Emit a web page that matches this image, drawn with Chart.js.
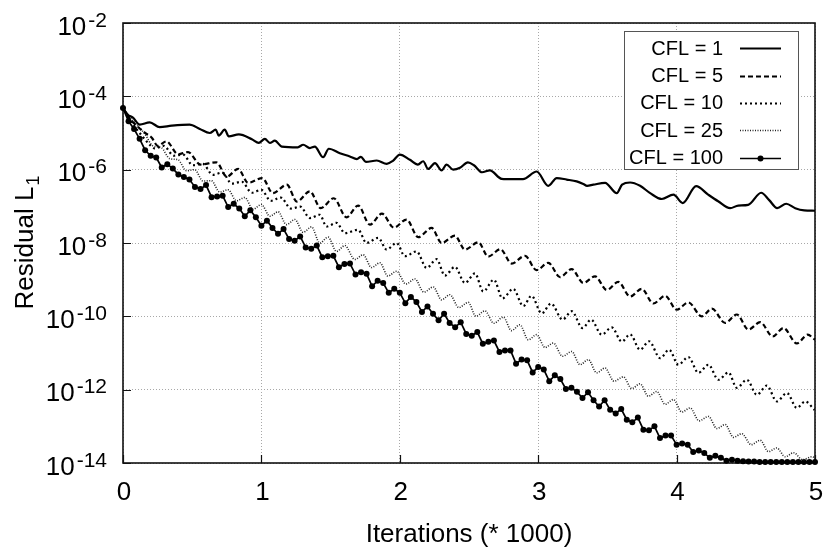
<!DOCTYPE html>
<html><head><meta charset="utf-8">
<script src="https://cdn.jsdelivr.net/npm/chart.js@4.4.0/dist/chart.umd.min.js"></script>
<style>html,body{margin:0;padding:0;background:#fff}#wrap{width:827px;height:552px}</style>
</head><body><div id="wrap"><canvas id="c" width="827" height="552"></canvas></div>
<script>
// ---------- data (x in thousands of iterations, values stored as log10 of the residual) ----------
const xTicks = [0, 1, 2, 3, 4, 5];
const yTickExps = [-14, -12, -10, -8, -6, -4, -2];
const seriesLabels = ['CFL = 1', 'CFL = 5', 'CFL = 10', 'CFL = 25', 'CFL = 100'];

const cfl1X = [0,0.034,0.072,0.121,0.193,0.265,0.352,0.481,0.555,0.627,0.670,0.692,0.735,0.764,0.837,0.931,0.981,1.025,1.061,1.097,1.147,1.263,1.302,1.350,1.386,1.446,1.487,1.567,1.639,1.690,1.719,1.755,1.834,1.906,1.950,2.000,2.073,2.131,2.169,2.205,2.254,2.302,2.338,2.386,2.435,2.492,2.536,2.594,2.651,2.736,2.818,2.890,2.989,3.073,3.134,3.206,3.278,3.326,3.353,3.398,3.483,3.568,3.606,3.664,3.736,3.809,3.893,3.977,4.045,4.141,4.228,4.300,4.387,4.445,4.517,4.611,4.669,4.727,4.792,4.857,4.922,5.000];
const cfl1Exp = [-4.32,-4.50,-4.58,-4.77,-4.71,-4.84,-4.80,-4.77,-4.89,-5.00,-4.91,-5.07,-4.91,-5.09,-5.04,-5.17,-5.27,-5.16,-5.27,-5.21,-5.37,-5.39,-5.32,-5.41,-5.37,-5.66,-5.43,-5.55,-5.64,-5.71,-5.65,-5.79,-5.75,-5.84,-5.76,-5.59,-5.73,-5.86,-5.77,-5.98,-5.82,-6.02,-5.86,-6.00,-5.95,-5.80,-5.88,-6.07,-6.02,-6.25,-6.26,-6.26,-6.05,-6.44,-6.23,-6.27,-6.32,-6.39,-6.44,-6.41,-6.36,-6.64,-6.41,-6.35,-6.44,-6.64,-6.80,-6.68,-6.91,-6.45,-6.68,-6.86,-7.05,-6.98,-6.96,-6.63,-6.83,-7.05,-6.93,-7.05,-7.11,-7.12];

const cfl5X = [0,0.041,0.099,0.157,0.208,0.251,0.314,0.398,0.470,0.560,0.675,0.750,0.832,0.904,1.007,1.082,1.184,1.256,1.350,1.429,1.523,1.615,1.699,1.784,1.871,1.957,2.049,2.133,2.230,2.302,2.398,2.471,2.567,2.639,2.727,2.808,2.905,2.988,3.073,3.158,3.242,3.326,3.411,3.495,3.579,3.664,3.748,3.832,3.917,4.001,4.085,4.182,4.255,4.351,4.435,4.519,4.604,4.694,4.772,4.869,4.947,5.000];
const cfl5Exp = [-4.32,-4.58,-4.80,-4.99,-5.13,-5.35,-5.23,-5.58,-5.52,-5.86,-5.80,-6.19,-5.98,-6.36,-6.23,-6.64,-6.41,-6.87,-6.59,-7.05,-6.78,-7.30,-6.98,-7.50,-7.20,-7.58,-7.36,-7.84,-7.59,-8.00,-7.80,-8.18,-7.98,-8.37,-8.17,-8.56,-8.35,-8.74,-8.54,-8.93,-8.71,-9.09,-8.91,-9.28,-9.06,-9.46,-9.25,-9.65,-9.44,-9.82,-9.62,-10.00,-9.79,-10.18,-9.95,-10.36,-10.16,-10.55,-10.32,-10.74,-10.50,-10.64];

const cfl10X = [0,0.070,0.142,0.193,0.229,0.294,0.367,0.435,0.504,0.576,0.649,0.717,0.786,0.858,0.931,0.999,1.068,1.140,1.213,1.281,1.350,1.422,1.471,1.543,1.603,1.699,1.760,1.844,1.905,1.977,2.037,2.121,2.194,2.266,2.326,2.398,2.471,2.543,2.603,2.680,2.742,2.820,2.892,2.952,3.025,3.093,3.176,3.242,3.320,3.382,3.459,3.531,3.604,3.664,3.736,3.801,3.881,3.946,4.013,4.085,4.158,4.230,4.302,4.375,4.435,4.508,4.580,4.652,4.724,4.797,4.869,4.929,4.996];
const cfl10Exp = [-4.32,-4.75,-5.10,-5.32,-5.42,-5.35,-5.62,-5.59,-5.88,-5.84,-6.14,-6.08,-6.38,-6.33,-6.63,-6.55,-6.85,-6.76,-7.06,-7.01,-7.32,-7.23,-7.55,-7.45,-7.73,-7.64,-8.00,-7.86,-8.18,-8.00,-8.36,-8.23,-8.68,-8.44,-8.89,-8.65,-9.09,-8.83,-9.32,-9.00,-9.51,-9.25,-9.72,-9.44,-9.92,-9.65,-10.09,-9.86,-10.32,-10.09,-10.50,-10.30,-10.69,-10.49,-10.91,-10.68,-11.14,-10.91,-11.32,-11.11,-11.54,-11.32,-11.73,-11.53,-11.95,-11.73,-12.14,-11.89,-12.32,-12.09,-12.50,-12.32,-12.55];

const cfl25X = [0,0.070,0.157,0.215,0.277,0.338,0.398,0.458,0.518,0.578,0.638,0.699,0.759,0.820,0.880,0.940,1.000,1.061,1.121,1.181,1.242,1.302,1.362,1.422,1.482,1.543,1.603,1.675,1.735,1.796,1.856,1.914,1.977,2.044,2.109,2.174,2.242,2.302,2.362,2.427,2.495,2.550,2.615,2.680,2.748,2.807,2.868,2.928,2.989,3.049,3.109,3.176,3.242,3.302,3.362,3.423,3.483,3.548,3.615,3.676,3.736,3.796,3.857,3.917,3.977,4.038,4.098,4.163,4.230,4.291,4.351,4.411,4.471,4.539,4.604,4.664,4.724,4.785,4.845,4.911,4.978,4.996];
const cfl25Exp = [-4.32,-4.66,-5.02,-5.35,-5.40,-5.70,-5.73,-6.03,-6.00,-6.31,-6.30,-6.61,-6.55,-6.85,-6.76,-7.08,-6.95,-7.27,-7.15,-7.50,-7.36,-7.71,-7.56,-8.00,-7.84,-8.23,-8.07,-8.45,-8.32,-8.67,-8.54,-8.90,-8.77,-9.12,-8.98,-9.34,-9.20,-9.55,-9.41,-9.76,-9.62,-10.00,-9.85,-10.19,-10.02,-10.39,-10.23,-10.64,-10.50,-10.85,-10.73,-11.09,-10.96,-11.32,-11.18,-11.54,-11.41,-11.77,-11.65,-11.97,-11.84,-12.18,-12.05,-12.40,-12.27,-12.61,-12.50,-12.85,-12.73,-13.06,-12.95,-13.30,-13.20,-13.50,-13.38,-13.69,-13.59,-13.83,-13.72,-13.91,-13.83,-13.85];

const cfl100X = [0,0.04,0.08,0.12,0.16,0.2,0.24,0.28,0.32,0.36,
0.4,0.44,0.48,0.52,0.56,0.6,0.64,0.68,0.72,0.76,
0.8,0.84,0.88,0.92,0.96,1,1.04,1.08,1.12,1.16,
1.2,1.24,1.28,1.32,1.36,1.4,1.44,1.48,1.52,1.56,
1.6,1.64,1.68,1.72,1.76,1.8,1.84,1.88,1.92,1.96,
2,2.04,2.08,2.12,2.16,2.2,2.24,2.28,2.32,2.36,
2.4,2.44,2.48,2.52,2.56,2.6,2.64,2.68,2.72,2.76,
2.8,2.84,2.88,2.92,2.96,3,3.04,3.08,3.12,3.16,
3.2,3.24,3.28,3.32,3.36,3.4,3.44,3.48,3.52,3.56,
3.6,3.64,3.68,3.72,3.76,3.8,3.84,3.88,3.92,3.96,
4,4.04,4.08,4.12,4.16,4.2,4.24,4.28,4.32,4.36,
4.4,4.44,4.48,4.52,4.56,4.6,4.64,4.68,4.72,4.76,
4.8,4.84,4.88,4.92,4.96,5];
const cfl100Exp = [-4.32,-4.68,-4.89,-5.16,-5.47,-5.62,-5.67,-5.94,-5.85,-5.97,
-6.13,-6.20,-6.27,-6.47,-6.53,-6.42,-6.75,-6.73,-6.71,-7.02,
-6.93,-7.06,-7.27,-7.11,-7.30,-7.53,-7.39,-7.59,-7.75,-7.62,
-7.89,-7.94,-7.82,-8.12,-8.16,-8.07,-8.39,-8.36,-8.35,-8.66,
-8.57,-8.56,-8.86,-8.80,-8.84,-9.18,-9.03,-9.09,-9.36,-9.25,
-9.36,-9.64,-9.47,-9.61,-9.88,-9.73,-9.93,-10.11,-9.93,-10.18,
-10.30,-10.16,-10.48,-10.53,-10.43,-10.75,-10.69,-10.66,-10.97,-10.93,
-10.93,-11.29,-11.18,-11.20,-11.53,-11.38,-11.45,-11.77,-11.61,-11.71,
-11.98,-11.95,-12.06,-12.23,-12.07,-12.29,-12.46,-12.29,-12.55,-12.65,
-12.53,-12.82,-12.89,-12.76,-13.09,-13.11,-13.00,-13.32,-13.25,-13.25,
-13.50,-13.47,-13.50,-13.70,-13.66,-13.73,-13.86,-13.80,-13.86,-13.94,
-13.91,-13.94,-13.95,-13.96,-13.96,-13.97,-13.97,-13.97,-13.97,-13.97,
-13.97,-13.97,-13.97,-13.97,-13.97,-13.97];

// ---------- chart ----------
const FONT = '"Liberation Sans", Arial, Helvetica, sans-serif';
Chart.defaults.font.family = FONT;

function toPoints(xs, exps) { return xs.map((x, i) => ({ x: x, y: Math.pow(10, exps[i]) })); }

const lineBase = { borderColor: '#000', backgroundColor: '#000', fill: false, pointRadius: 0, pointHoverRadius: 0, cubicInterpolationMode: 'monotone' };

const datasets = [
  Object.assign({}, lineBase, { label: seriesLabels[0], data: toPoints(cfl1X, cfl1Exp), borderWidth: 2.2 }),
  Object.assign({}, lineBase, { label: seriesLabels[1], data: toPoints(cfl5X, cfl5Exp), borderWidth: 2.2, borderDash: [5, 3] }),
  Object.assign({}, lineBase, { label: seriesLabels[2], data: toPoints(cfl10X, cfl10Exp), borderWidth: 2.2, borderDash: [2, 3] }),
  Object.assign({}, lineBase, { label: seriesLabels[3], data: toPoints(cfl25X, cfl25Exp), borderWidth: 1.6, borderDash: [1, 1.5], borderColor: '#222' }),
  { label: seriesLabels[4], data: toPoints(cfl100X, cfl100Exp), borderColor: '#000', backgroundColor: '#000', borderWidth: 1.7, tension: 0,
    pointRadius: 3, pointHoverRadius: 3, pointBackgroundColor: '#000', pointBorderColor: '#000', pointBorderWidth: 0, clip: false }
];

const decor = {
  id: 'decor',
  beforeDatasetsDraw(chart) {
    const { ctx, chartArea: a, scales: { x, y } } = chart;
    ctx.save();
    ctx.strokeStyle = '#111';
    ctx.lineWidth = 1.2;
    ctx.beginPath();
    yTickExps.forEach(e => {
      const py = Math.round(y.getPixelForValue(Math.pow(10, e))) + 0.5;
      ctx.moveTo(a.left, py); ctx.lineTo(a.left + 8, py);
    });
    xTicks.forEach(v => {
      const px = Math.round(x.getPixelForValue(v)) + 0.5;
      ctx.moveTo(px, a.bottom); ctx.lineTo(px, a.bottom - 8);
    });
    ctx.stroke();
    ctx.lineWidth = 1.6;
    ctx.strokeRect(a.left, a.top, a.right - a.left, a.bottom - a.top);
    ctx.restore();
  },
  afterDatasetsDraw(chart) {
    const { ctx, chartArea: a } = chart;
    const W = 174, H = 138;
    const L = a.right - 17 - W, T = a.top + 8;
    ctx.save();
    ctx.fillStyle = '#fff';
    ctx.fillRect(L, T, W, H);
    ctx.strokeStyle = '#555';
    ctx.lineWidth = 1;
    ctx.strokeRect(L + 0.5, T + 0.5, W, H);
    chart.data.datasets.forEach((ds, k) => {
      const cy = T + 17.3 + k * 27.3;
      ctx.font = '20px ' + FONT;
      ctx.textAlign = 'right';
      ctx.textBaseline = 'middle';
      ctx.fillStyle = '#000';
      ctx.fillText(ds.label, L + 99, cy + 1);
      ctx.strokeStyle = ds.borderColor;
      ctx.lineWidth = ds.borderWidth;
      ctx.setLineDash(ds.borderDash || []);
      ctx.beginPath();
      ctx.moveTo(L + 116, Math.round(cy) + 0.5);
      ctx.lineTo(L + 157, Math.round(cy) + 0.5);
      ctx.stroke();
      ctx.setLineDash([]);
      if (ds.pointRadius > 0) {
        ctx.beginPath();
        ctx.arc(L + 136.5, Math.round(cy) + 0.5, ds.pointRadius, 0, Math.PI * 2);
        ctx.fillStyle = '#000';
        ctx.fill();
      }
    });
    ctx.restore();
  },
  afterDraw(chart) {
    const { ctx, chartArea: a, scales: { x, y } } = chart;
    ctx.save();
    ctx.fillStyle = '#000';
    ctx.textBaseline = 'alphabetic';
    // y tick labels 10^n
    yTickExps.forEach(e => {
      const py = y.getPixelForValue(Math.pow(10, e));
      const sup = String(e);
      ctx.textAlign = 'right';
      ctx.font = '21px ' + FONT;
      const sw = ctx.measureText(sup).width;
      ctx.fillText(sup, 107, py + 3.5);
      ctx.font = '26px ' + FONT;
      ctx.fillText('10', 107 - sw - 2, py + 11.5);
    });
    // x tick labels
    ctx.textAlign = 'center';
    ctx.font = '26px ' + FONT;
    xTicks.forEach(v => { ctx.fillText(String(v), x.getPixelForValue(v) + 1, 500); });
    // x title
    ctx.fillText('Iterations (* 1000)', (a.left + a.right) / 2, 541.5);
    // y title with subscript
    ctx.translate(33, 243);
    ctx.rotate(-Math.PI / 2);
    ctx.font = '26px ' + FONT;
    const t = 'Residual L';
    const tw = ctx.measureText(t).width;
    ctx.font = '18px ' + FONT;
    const subw = ctx.measureText('1').width;
    const start = -(tw + subw) / 2;
    ctx.textAlign = 'left';
    ctx.font = '26px ' + FONT;
    ctx.fillText(t, start, 0);
    ctx.font = '18px ' + FONT;
    ctx.fillText('1', start + tw + 1, 6);
    ctx.restore();
  }
};

const gridOpts = { color: '#a8a8a8', lineWidth: 1, drawTicks: false };

new Chart(document.getElementById('c'), {
  type: 'line',
  data: { datasets: datasets },
  options: {
    responsive: false,
    animation: false,
    layout: { padding: { left: 123, right: 12, top: 23, bottom: 89 } },
    plugins: { legend: { display: false }, tooltip: { enabled: false } },
    scales: {
      x: {
        type: 'linear', min: 0, max: 5,
        afterBuildTicks: s => { s.ticks = xTicks.map(v => ({ value: v })); },
        ticks: { display: false },
        grid: gridOpts,
        border: { display: false, dash: [1, 2] },
        afterFit: s => { s.height = 0; }
      },
      y: {
        type: 'logarithmic', min: 1e-14, max: 1e-2,
        afterBuildTicks: s => { s.ticks = yTickExps.map(e => ({ value: Math.pow(10, e) })); },
        ticks: { display: false },
        grid: gridOpts,
        border: { display: false, dash: [1, 2] },
        afterFit: s => { s.width = 0; }
      }
    }
  },
  plugins: [decor]
});
</script>
</body></html>
